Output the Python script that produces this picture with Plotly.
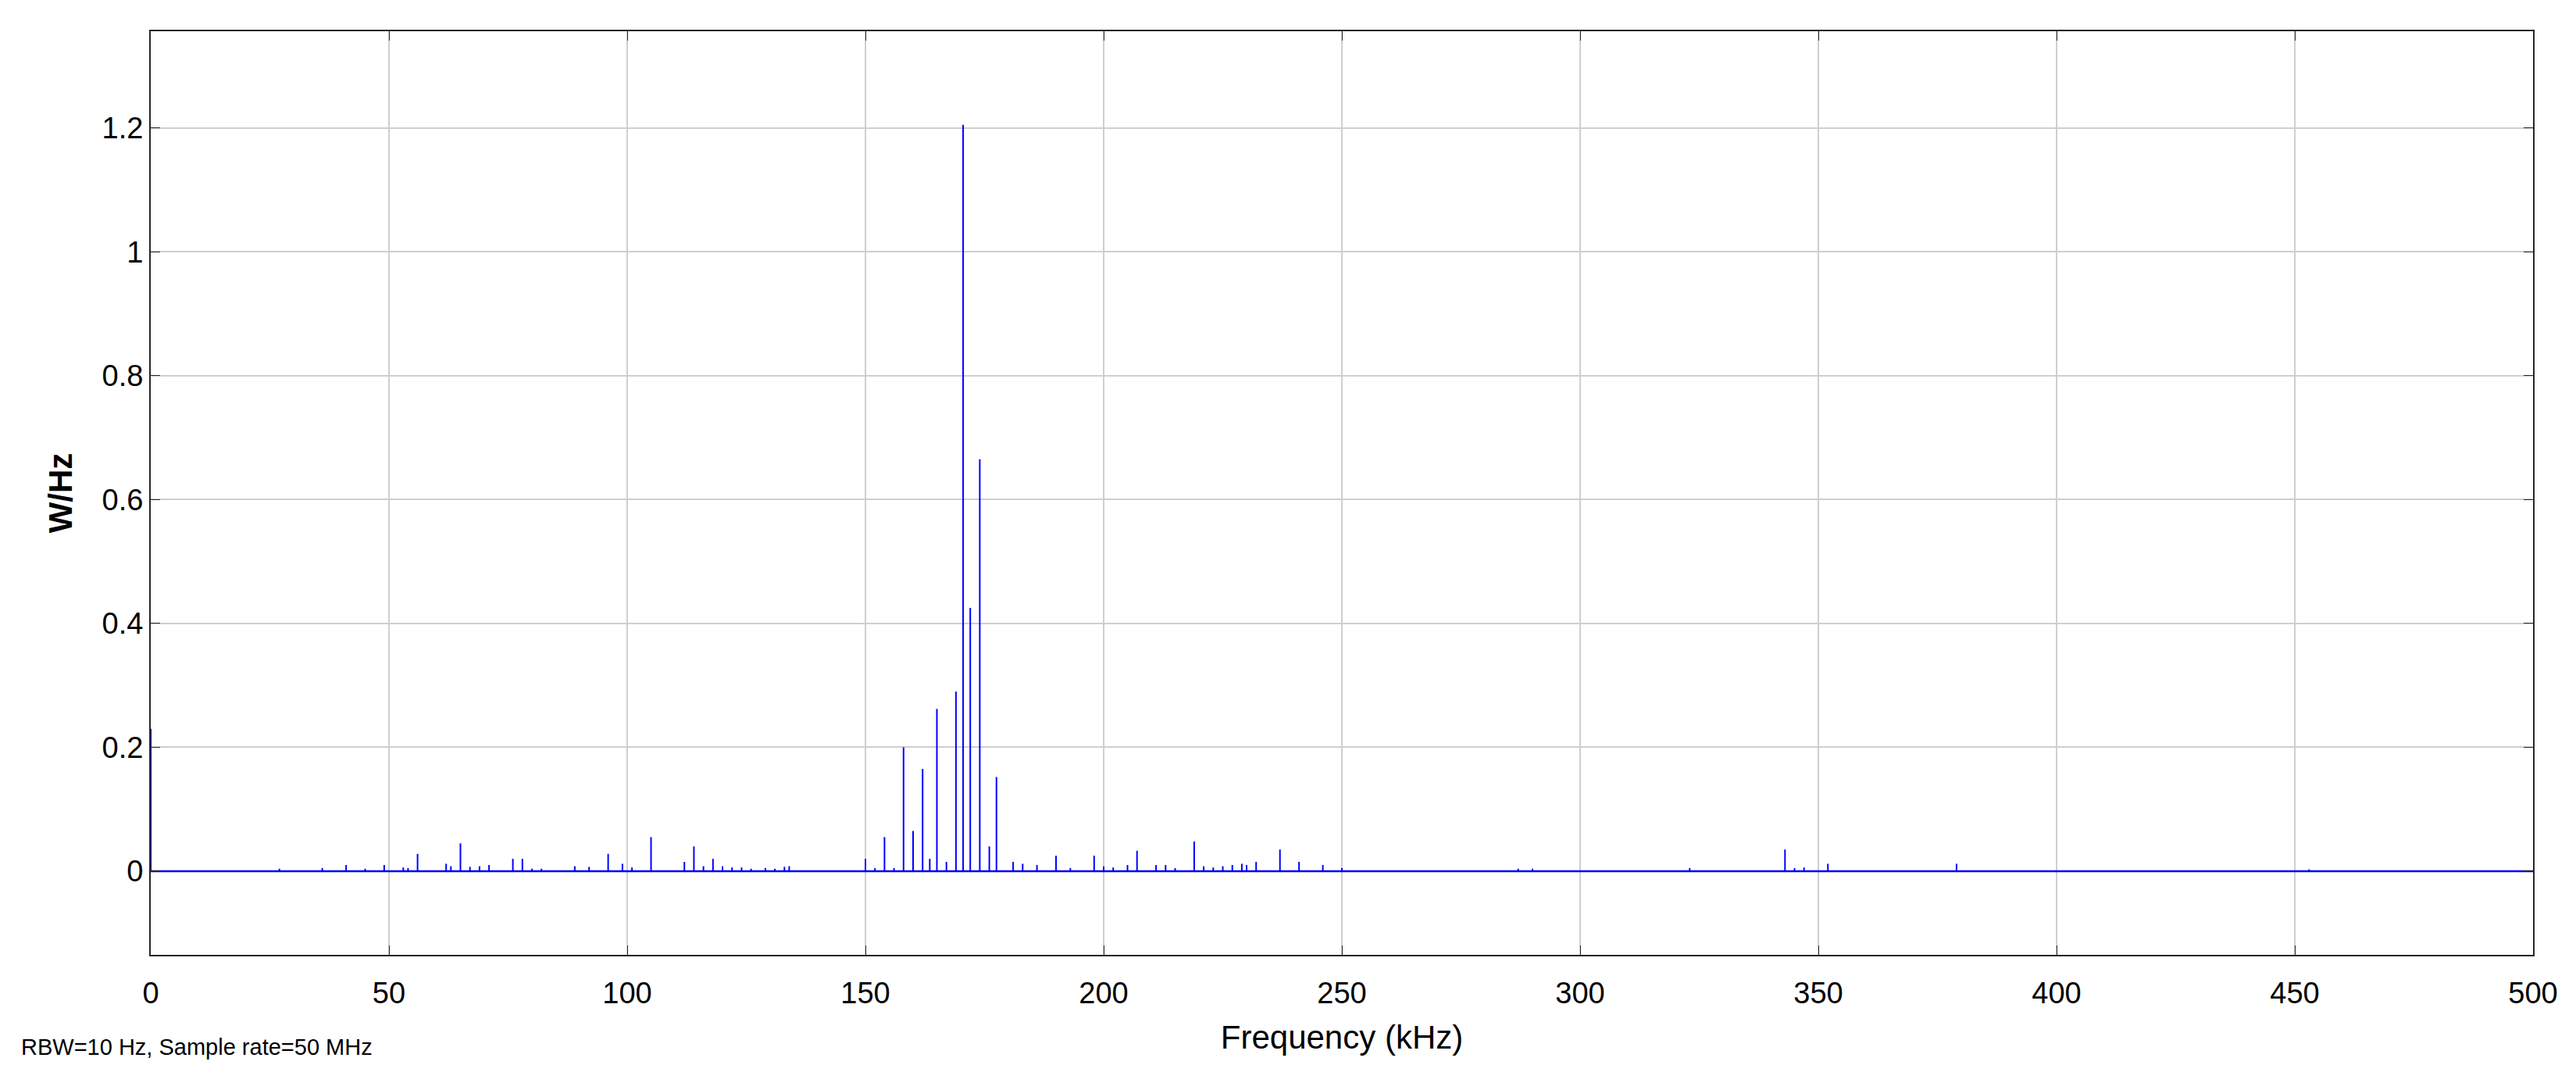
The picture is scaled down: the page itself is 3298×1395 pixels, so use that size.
import plotly.graph_objects as go

# spectral lines (kHz, W/Hz)
freq_khz = [0, 27, 36, 41, 45, 49, 53, 54, 56, 62, 63, 65, 67, 69, 71, 76, 78, 80, 82, 89, 92, 96, 99, 101,
            105, 112, 114, 116, 118, 120, 122, 124, 126, 129, 131, 133, 134, 150, 152, 154, 156, 158, 160,
            162, 163.5, 165, 167, 169, 170.5, 172, 174, 176, 177.5, 181, 183, 186, 190, 193, 198, 200, 202,
            205, 207, 211, 213, 215, 219, 221, 223, 225, 227, 229, 230, 232, 237, 241, 246, 250, 287, 290,
            323, 343, 345, 347, 352, 379, 453]
power = [0.23, 0.004, 0.005, 0.01, 0.004, 0.01, 0.006, 0.005, 0.028, 0.012, 0.008, 0.045, 0.007, 0.008, 0.01,
         0.02, 0.02, 0.004, 0.004, 0.008, 0.007, 0.028, 0.012, 0.006, 0.055, 0.015, 0.04, 0.008, 0.02, 0.008,
         0.006, 0.006, 0.004, 0.005, 0.004, 0.007, 0.008, 0.02, 0.005, 0.055, 0.005, 0.2, 0.065, 0.165, 0.02,
         0.262, 0.015, 0.29, 1.205, 0.425, 0.665, 0.04, 0.152, 0.015, 0.012, 0.01, 0.025, 0.005, 0.025, 0.008,
         0.006, 0.01, 0.033, 0.01, 0.01, 0.005, 0.048, 0.008, 0.006, 0.008, 0.01, 0.012, 0.01, 0.015, 0.035,
         0.015, 0.01, 0.005, 0.004, 0.004, 0.005, 0.035, 0.005, 0.006, 0.012, 0.012, 0.003]

xs, ys = [], []
for f, p in zip(freq_khz, power):
    xs += [f, f, None]
    ys += [0, p, None]

fig = go.Figure()
fig.add_trace(go.Scatter(x=[0, 500], y=[0, 0], mode="lines", line=dict(color="#0000ff", width=2.5)))
fig.add_trace(go.Scatter(x=xs, y=ys, mode="lines", line=dict(color="#0000ff", width=2)))

axis_common = dict(
    showgrid=True, gridcolor="#cfcfcf", gridwidth=1.5,
    showline=True, linecolor="#262626", linewidth=2, mirror="ticks",
    ticks="inside", ticklen=12, tickcolor="#262626", zeroline=False,
    tickfont=dict(family="Arial", size=38, color="black"),
)
fig.update_xaxes(range=[0, 500], dtick=50, ticklabelstandoff=14, **axis_common,
                 title=dict(text="Frequency (kHz)", font=dict(family="Arial", size=42, color="black"), standoff=22))
fig.update_yaxes(range=[-0.135, 1.356], tickvals=[0, 0.2, 0.4, 0.6, 0.8, 1, 1.2],
                 ticktext=["0", "0.2", "0.4", "0.6", "0.8", "1", "1.2"], **axis_common,
                 title=dict(text="<b>W/Hz</b>", font=dict(family="Arial", size=42, color="black"), standoff=25))

fig.add_annotation(text="RBW=10 Hz, Sample rate=50 MHz", xref="paper", yref="paper",
                   x=-0.055, y=-0.1, xanchor="left", yanchor="middle", showarrow=False,
                   font=dict(family="Arial", size=29, color="black"))

fig.update_layout(
    width=3298, height=1395, showlegend=False,
    plot_bgcolor="white", paper_bgcolor="white",
    margin=dict(l=185, r=63, t=32, b=181),
)

fig.write_html("out.html")
